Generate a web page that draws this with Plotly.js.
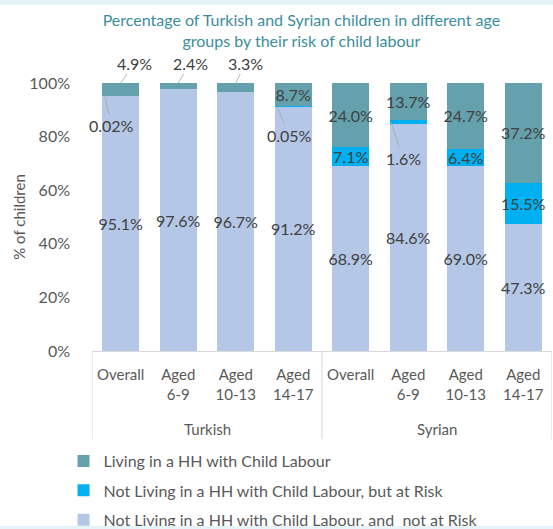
<!DOCTYPE html>
<html>
<head>
<meta charset="utf-8">
<script src="https://cdn.plot.ly/plotly-3.0.1.min.js"></script>
<style>
  html, body { margin: 0; padding: 0; background: #ffffff; width: 553px; height: 529px; overflow: hidden; }
  #chart { position: absolute; left: 0; top: 0; width: 553px; height: 545px; }
  .band { position: absolute; left: 0; width: 553px; background: #e6f4fa; pointer-events: none; }
</style>
</head>
<body>
<div id="chart"></div>
<div class="band" style="top:0;height:5px"></div>
<div class="band" style="top:526px;height:3px"></div>
<script>
// ---- data ----
const groups = ["Turkish", "Turkish", "Turkish", "Turkish", "Syrian", "Syrian", "Syrian", "Syrian"];
const subLabels = ["Overall", "Aged<br>6-9", "Aged<br>10-13", "Aged<br>14-17", "Overall", "Aged<br>6-9", "Aged<br>10-13", "Aged<br>14-17"];
const notAtRisk = [95.1, 97.6, 96.7, 91.2, 68.9, 84.6, 69.0, 47.3];
const atRisk    = [0.02, 0, 0, 0.05, 7.1, 1.6, 6.4, 15.5];
const livingCL  = [4.9, 2.4, 3.3, 8.7, 24.0, 13.7, 24.7, 37.2];
const seriesNames = [
  "Not Living in a HH with Child Labour, and  not at Risk",
  "Not Living in a HH with Child Labour, but at Risk",
  "Living in a HH with Child Labour"
];
const yTicks = [0, 20, 40, 60, 80, 100];

// ---- styling ----
const FONT = "Lato, 'Open Sans', sans-serif";
const colors = ["#b4c7e7", "#00b0f0", "#65a0ad"];
const labelFont = {family: FONT, size: 16, color: "#404040"};
const x = subLabels.map((_, i) => i);

function fmt(v) { return (v < 0.1 ? v.toFixed(2) : v.toFixed(1)) + "%"; }

// labels drawn as callouts (series index, category index, text offset px, x shift in category units, where on segment)
const callouts = [
  {s: 2, i: 0, ax: 14, ay: -20, dx: 0,     at: "top"},
  {s: 2, i: 1, ax: 12, ay: -20, dx: 0,     at: "top"},
  {s: 2, i: 2, ax: 10, ay: -20, dx: 0,     at: "top"},
  {s: 1, i: 0, ax: 7,  ay: 29,  dx: -0.28, at: "mid"},
  {s: 1, i: 3, ax: 12, ay: 29,  dx: -0.28, at: "mid"},
  {s: 1, i: 5, ax: 12, ay: 36,  dx: -0.3,  at: "mid"}
];

const seriesVals = [notAtRisk, atRisk, livingCL];
const isCallout = (s, i) => callouts.some(c => c.s === s && c.i === i);

const traces = seriesVals.map((vals, s) => ({
  type: "bar",
  name: seriesNames[s],
  x: x,
  y: vals,
  legendgroup: "g" + s,
  legendrank: 3 - s,
  marker: {color: colors[s], line: {width: 0}},
  text: vals.map((v, i) => (v > 0 && !isCallout(s, i)) ? fmt(v) : ""),
  textposition: "inside",
  insidetextanchor: "middle",
  textangle: 0,
  constraintext: "none",
  textfont: labelFont,
  hoverinfo: "skip"
}));

const annotations = callouts.map(c => {
  let base = 0;
  for (let k = 0; k < c.s; k++) base += seriesVals[k][c.i];
  const v = seriesVals[c.s][c.i];
  const yPt = Math.min(100, c.at === "top" ? base + v : base + v / 2);
  return {
    x: x[c.i] + c.dx, y: yPt, xref: "x", yref: "y",
    text: fmt(v), showarrow: true, arrowhead: 0, arrowwidth: 0.8,
    arrowcolor: "#a6a6a6", ax: c.ax, ay: c.ay, font: labelFont
  };
});

// group labels and dividers
const groupNames = [...new Set(groups)];
const shapes = [];
const plotH = 269;
const divBottom = -(88.5 / plotH);
const groupLabelY = -(78 / plotH);
let bounds = [-0.5];
groupNames.forEach(g => {
  const idx = groups.map((gg, i) => gg === g ? i : -1).filter(i => i >= 0);
  const lo = Math.min(...idx), hi = Math.max(...idx);
  bounds.push(hi + 0.5);
  annotations.push({
    x: (lo + hi) / 2, y: groupLabelY, xref: "x", yref: "paper",
    text: g, showarrow: false, yanchor: "middle",
    font: {family: FONT, size: 15, color: "#595959"}
  });
});
bounds.forEach(b => shapes.push({
  type: "line", xref: "x", yref: "paper", x0: b, x1: b, y0: 0, y1: divBottom,
  line: {color: "#d9d9d9", width: 1}
}));

const layout = {
  width: 553, height: 545,
  margin: {l: 91.5, r: 1, t: 82.5, b: 193.5},
  paper_bgcolor: "#ffffff", plot_bgcolor: "#ffffff",
  barmode: "stack", bargap: 0.36,
  font: {family: FONT, size: 15, color: "#595959"},
  title: {
    text: "Percentage of Turkish and Syrian children in different age<br>groups by their risk of child labour",
    font: {family: FONT, size: 16, color: "#3b8e9c"},
    xref: "container", x: 0.545, xanchor: "center",
    yref: "container", y: 1 - 25.8 / 545, yanchor: "top"
  },
  xaxis: {
    range: [-0.5, 7.5], tickmode: "array", tickvals: x, ticktext: subLabels,
    showgrid: false, zeroline: false, showline: true, linecolor: "#d9d9d9", linewidth: 1,
    ticks: "", ticklabelstandoff: 10, fixedrange: true, automargin: false,
    tickfont: {family: FONT, size: 15, color: "#595959"}
  },
  yaxis: {
    range: [0, 100], tickmode: "array", tickvals: yTicks, ticktext: yTicks.map(t => t + "%"),
    showgrid: false, zeroline: false, showline: false, ticks: "", ticklabelstandoff: 21,
    fixedrange: true, automargin: false,
    tickfont: {family: FONT, size: 16, color: "#595959"},
    title: {text: "% of children", standoff: 0,
            font: {family: FONT, size: 15, color: "#595959"}}
  },
  legend: {
    orientation: "v", traceorder: "grouped", tracegroupgap: 5.5,
    x: (63 - 91.5) / 460.5, xanchor: "left",
    y: -((445 - 351.5) / plotH), yanchor: "top",
    itemwidth: 30,
    font: {family: FONT, size: 16, color: "#595959"},
    bgcolor: "rgba(0,0,0,0)"
  },
  showlegend: true,
  annotations: annotations,
  shapes: shapes
};

Plotly.newPlot("chart", traces, layout, {displayModeBar: false, staticPlot: true});
</script>
</body>
</html>
